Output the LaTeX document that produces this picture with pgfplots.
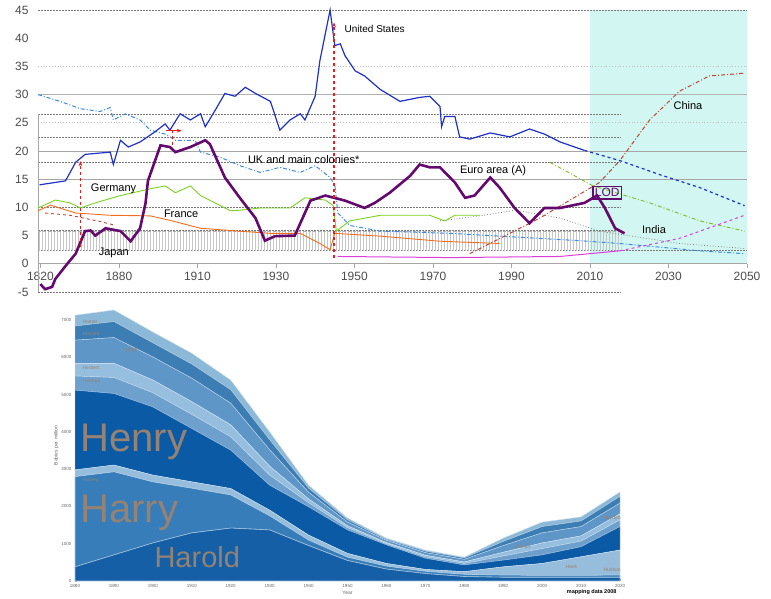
\documentclass[border=0pt]{standalone}
\usepackage{fontspec}
\setmainfont{Liberation Sans}
\usepackage{pgfplots}
\pgfplotsset{compat=1.18}
\usetikzlibrary{patterns,arrows.meta}
\definecolor{usblue}{RGB}{30,50,200}
\definecolor{ukblue}{RGB}{60,140,230}
\definecolor{degreen}{RGB}{120,210,30}
\definecolor{frorange}{RGB}{240,110,30}
\definecolor{lodpurple}{RGB}{100,10,110}
\definecolor{cnred}{RGB}{190,70,50}
\definecolor{inmag}{RGB}{220,60,220}
\definecolor{eugreen}{RGB}{130,190,40}
\definecolor{fcyan}{RGB}{210,247,242}
\definecolor{arrred}{RGB}{230,30,30}
\definecolor{gline}{RGB}{120,120,120}
\definecolor{lA}{RGB}{20,95,165}
\definecolor{lB}{RGB}{55,125,185}
\definecolor{lC}{RGB}{150,190,220}
\definecolor{lD}{RGB}{10,90,165}
\definecolor{lE}{RGB}{110,160,205}
\definecolor{lF}{RGB}{150,190,222}
\definecolor{lG}{RGB}{95,150,200}
\definecolor{lH}{RGB}{60,125,180}
\definecolor{lI}{RGB}{140,185,215}
\definecolor{nametxt}{RGB}{150,130,115}
\begin{document}
\begin{tikzpicture}[x=1pt,y=1pt]
\path[use as bounding box] (0,0) rectangle (771,599);
% ================= TOP CHART =================
\begin{axis}[at={(38pt,307pt)}, anchor=south west, scale only axis,
  width=709pt, height=282pt, xmin=-0.03, xmax=9, ymin=-5, ymax=45,
  axis line style={draw=none}, major tick length=0pt,
  xtick={0,...,9}, xticklabels={1820,1880,1910,1930,1950,1970,1990,2010,2030,2050},
  ytick={-5,0,...,45},
  /pgf/number format/assume math mode=true,
  tick label style={font=\fontsize{12}{12}\selectfont, text=black!70},
  x tick label style={yshift=23pt},
  y tick label style={xshift=-6pt},
  clip=false]
\addplot[fill=fcyan, draw=none] coordinates {(7,0)(9,0)(9,45)(7,45)} \closedcycle;
% grid lines
\draw[gline, dash pattern=on 2pt off 1pt, line width=0.8pt] (axis cs:-0.03,45) -- (axis cs:9,45);
\draw[gray!50, dotted, line width=0.8pt] (axis cs:-0.03,35) -- (axis cs:9,35);
\draw[gray!60, line width=0.9pt] (axis cs:-0.03,30) -- (axis cs:9,30);
\draw[gline, dash pattern=on 2pt off 1pt, line width=0.8pt] (axis cs:-0.03,26.5) -- (axis cs:7.4,26.5);
\draw[gray!50, dotted, line width=0.8pt] (axis cs:-0.03,25) -- (axis cs:9,25);
\draw[gline, dash pattern=on 2pt off 1pt, line width=0.8pt] (axis cs:-0.03,22.4) -- (axis cs:7.4,22.4);
\draw[gray!70, line width=0.9pt] (axis cs:-0.03,20) -- (axis cs:9,20);
\draw[gline, dash pattern=on 2pt off 1pt, line width=0.8pt] (axis cs:-0.03,18) -- (axis cs:7.4,18);
\draw[gray!70, line width=0.9pt] (axis cs:-0.03,15) -- (axis cs:9,15);
\draw[gline, dash pattern=on 2pt off 1pt, line width=0.8pt] (axis cs:-0.03,10) -- (axis cs:7.4,10);
\draw[gline, dash pattern=on 2pt off 1pt, line width=0.8pt] (axis cs:-0.03,6) -- (axis cs:7.4,6);
\draw[gline, dash pattern=on 2pt off 1pt, line width=0.8pt] (axis cs:-0.03,2.3) -- (axis cs:9,2.3);
\draw[gray!70, line width=0.9pt] (axis cs:-0.03,0) -- (axis cs:9,0);
\draw[gline, dash pattern=on 2pt off 1pt, line width=0.8pt] (axis cs:-0.03,-5) -- (axis cs:7.4,-5);
\draw[gray!70, line width=0.9pt] (axis cs:-0.03,26.5) -- (axis cs:-0.03,-5);
\pgfplotsinvokeforeach{0,1,...,9}{\draw[gray!70] (axis cs:#1,0) -- (axis cs:#1,-0.8);}
\fill[pattern=vertical lines, pattern color=gray!45] (axis cs:-0.03,2.4) rectangle (axis cs:7.4,5.8);
\draw[gray!60, densely dashed] (axis cs:-0.03,5.8) -- (axis cs:7.4,5.8);
% UK and main colonies
\addplot[ukblue, line width=1pt, dash pattern=on 4pt off 2pt on 1pt off 2pt] coordinates {
(-0.03,30.0)(0.25,28.8)(0.51,27.5)(0.76,27.0)(0.89,27.7)(0.93,25.5)(1.08,26.6)(1.27,25.5)(1.40,23.7)(1.59,23.0)(1.72,21.9)(1.97,21.9)(2.04,19.8)(2.29,18.9)(2.54,17.4)(2.80,16.2)(3.05,17.1)(3.31,16.2)(3.50,17.4)(3.69,15.3)(3.75,14.0)(3.79,9.0)(3.94,6.8)(4.33,5.8)(5.22,5.4)(5.85,4.9)(6.87,4.1)(7.38,3.6)(8.40,2.3)(8.97,1.8)};
% Germany
\addplot[degreen, line width=0.9pt] coordinates {
(-0.03,9.9)(0.19,11.3)(0.38,10.8)(0.51,9.9)(0.70,10.8)(1.02,12.1)(1.40,13.3)(1.59,13.8)(1.72,12.6)(1.91,13.8)(2.04,12.1)(2.42,9.4)(2.54,9.5)(2.80,9.9)(3.18,9.9)(3.37,11.7)(3.63,11.3)(3.73,10.3)(3.77,5.8)(3.94,7.6)(4.33,8.6)(4.96,8.6)(5.15,7.6)(5.28,8.6)(5.60,8.6)};
% Euro area projection
\addplot[eugreen, line width=0.9pt, dash pattern=on 4pt off 2pt on 1pt off 2pt] coordinates {
(6.49,18.0)(7.04,13.8)(7.76,10.8)(8.40,7.6)(8.97,5.8)};
% France
\addplot[frorange, line width=0.9pt] coordinates {
(-0.03,9.4)(0.13,10.4)(0.45,9.0)(0.89,8.6)(1.40,8.5)(1.65,7.7)(2.04,6.3)(2.42,5.9)(2.93,5.4)(3.31,5.4)(3.56,3.6)(3.69,2.5)(3.75,5.4)(4.33,4.9)(5.09,4.0)(5.85,3.6)};
\addplot[cnred, line width=0.9pt, dashed] coordinates {(0.06,9.0)(0.38,8.6)(0.76,7.5)(0.96,6.8)};
% grey dotted
\addplot[gray, line width=0.8pt, dotted] coordinates {
(5.09,7.6)(5.60,8.5)(6.05,9.5)(6.62,8.1)(7.12,5.8)(8.14,3.6)(8.97,2.7)};
% India
\addplot[inmag, line width=1pt] coordinates {(3.79,1.3)(5.22,1.1)(6.62,1.3)(7.38,2.3)};
\addplot[inmag, line width=1pt, dashed] coordinates {(7.38,2.3)(8.14,4.5)(8.97,8.6)};
% China
\addplot[cnred, line width=1pt, dash pattern=on 4pt off 2pt on 1pt off 2pt] coordinates {
(5.47,1.8)(6.36,8.1)(7.12,14.4)(7.38,18.3)(7.76,25.5)(8.14,30.6)(8.52,33.3)(8.97,33.8)};
% United States
\addplot[usblue, line width=1.2pt] coordinates {
(-0.01,14.0)(0.32,14.7)(0.45,18.0)(0.57,19.4)(0.89,19.8)(0.93,17.6)(1.02,21.9)(1.12,20.7)(1.27,21.6)(1.46,23.4)(1.59,24.8)(1.65,23.7)(1.78,26.6)(1.91,25.5)(2.04,26.6)(2.10,24.3)(2.23,27.3)(2.35,30.2)(2.48,29.7)(2.61,31.3)(2.74,30.2)(2.93,28.8)(3.05,23.7)(3.18,25.5)(3.31,26.6)(3.37,25.5)(3.50,29.7)(3.56,36.0)(3.69,45.0)(3.75,38.7)(3.82,39.0)(3.88,36.9)(4.01,34.2)(4.13,33.3)(4.33,30.9)(4.58,28.8)(4.83,29.5)(4.96,29.7)(5.09,27.9)(5.11,24.3)(5.15,26.1)(5.28,26.1)(5.34,22.5)(5.47,22.1)(5.73,23.2)(5.98,22.5)(6.23,23.9)(6.42,23.0)(6.62,21.6)(6.93,20.1)};
\addplot[usblue, line width=1.2pt, dashed] coordinates {(6.93,20.1)(7.38,18.3)(7.89,15.8)(8.40,13.5)(8.97,10.3)};
% LOD
\addplot[lodpurple, line width=2.6pt] coordinates {
(0,-3.6)(0.06,-4.5)(0.15,-4.1)(0.19,-2.7)(0.32,-0.4)(0.45,1.8)(0.57,5.8)(0.64,5.9)(0.70,5.0)(0.83,6.3)(1.02,5.8)(1.15,4.0)(1.27,6.3)(1.34,10.8)(1.37,14.7)(1.53,21.0)(1.65,20.7)(1.72,19.8)(1.91,20.7)(2.10,21.9)(2.16,21.2)(2.35,15.3)(2.54,11.7)(2.74,8.1)(2.86,4.1)(2.99,4.9)(3.24,5.0)(3.44,11.2)(3.63,12.1)(3.88,11.2)(4.13,9.9)(4.26,10.8)(4.45,12.6)(4.71,15.6)(4.83,17.6)(4.96,17.1)(5.09,17.1)(5.28,14.4)(5.41,11.7)(5.53,12.1)(5.73,15.3)(5.85,13.5)(6.04,9.9)(6.23,7.2)(6.42,9.9)(6.62,9.9)(6.93,10.8)(7.09,12.1)(7.19,9.9)(7.32,6.3)(7.44,5.4)};
% red arrows
\draw[arrred, line width=1.1pt, dashed, -{Stealth[length=5pt]}] (axis cs:0.51,3.0) -- (axis cs:0.51,18.2);
\draw[arrred, line width=1.1pt, dashed] (axis cs:1.68,21.0) -- (axis cs:1.68,23.6);
\draw[arrred, line width=1.1pt, -{Stealth[length=5pt]}] (axis cs:1.60,23.6) -- (axis cs:1.80,23.6);
\draw[arrred, line width=1.1pt, dashed, -{Stealth[length=5pt]}] (axis cs:3.74,1.0) -- (axis cs:3.74,42.8);
% labels
\node[anchor=west, font=\fontsize{10}{10}\selectfont] at (axis cs:3.83,41.7) {United States};
\node[anchor=west, font=\fontsize{11}{11}\selectfont] at (axis cs:2.60,18.5) {UK and main colonies*};
\node[anchor=west, font=\fontsize{11}{11}\selectfont] at (axis cs:0.60,13.3) {Germany};
\node[anchor=west, font=\fontsize{11}{11}\selectfont] at (axis cs:1.53,8.8) {France};
\node[anchor=west, font=\fontsize{11}{11}\selectfont] at (axis cs:0.70,2.0) {Japan};
\node[anchor=west, font=\fontsize{11}{11}\selectfont] at (axis cs:5.30,16.6) {Euro area (A)};
\node[anchor=west, font=\fontsize{11}{11}\selectfont] at (axis cs:8.02,28.0) {China};
\node[anchor=west, font=\fontsize{11}{11}\selectfont] at (axis cs:7.62,6.0) {India};
\node[draw=lodpurple, line width=1.5pt, text=lodpurple, inner sep=2pt, font=\fontsize{12}{12}\selectfont] at (axis cs:7.22,12.6) {LOD};
\end{axis}
% ================= BOTTOM CHART =================
\begin{axis}[at={(75pt,18pt)}, anchor=south west, scale only axis,
  width=545pt, height=271pt, xmin=1880, xmax=2020, ymin=0, ymax=7.27,
  stack plots=y, axis line style={draw=none},
  major tick length=2pt, tick style={gray!70}, tick pos=left,
  xtick={1880,1890,...,2020},
  xticklabels={1880,1890,1900,1910,1920,1930,1940,1950,1960,1970,1980,1990,2000,2010,2020},
  ytick={0,1,...,7},
  yticklabels={0,1000,2000,3000,4000,5000,6000,7000},
  tick label style={font=\fontsize{4.5}{5}\selectfont, text=black!60},
  xlabel={Year}, ylabel={Babies per million},
  label style={font=\fontsize{5}{5}\selectfont, text=black!60},
  xlabel style={yshift=4pt}, ylabel style={yshift=-4pt},
  clip=false]
\addplot[fill=lA, draw=white!60!lA, line width=0.6pt] coordinates {
(1880,0.38)(1890,0.70)(1900,1.02)(1910,1.29)(1920,1.42)(1930,1.37)(1940,0.95)(1950,0.55)(1960,0.32)(1970,0.20)(1980,0.12)(1990,0.10)(2000,0.10)(2010,0.10)(2020,0.10)} \closedcycle;
\addplot[fill=lB, draw=white!60!lB, line width=0.6pt] coordinates {
(1880,2.42)(1890,2.23)(1900,1.64)(1910,1.20)(1920,0.89)(1930,0.38)(1940,0.15)(1950,0.09)(1960,0.08)(1970,0.06)(1980,0.06)(1990,0.06)(2000,0.05)(2010,0.05)(2020,0.06)} \closedcycle;
\addplot[fill=lC, draw=white!60!lC, line width=0.4pt] coordinates {
(1880,0.18)(1890,0.18)(1900,0.18)(1910,0.17)(1920,0.17)(1930,0.15)(1940,0.13)(1950,0.10)(1960,0.07)(1970,0.05)(1980,0.07)(1990,0.22)(2000,0.32)(2010,0.50)(2020,0.67)} \closedcycle;
\addplot[fill=lD, draw=white!60!lD, line width=0.4pt] coordinates {
(1880,2.14)(1890,1.92)(1900,1.83)(1910,1.43)(1920,1.03)(1930,0.67)(1940,0.76)(1950,0.63)(1960,0.50)(1970,0.30)(1980,0.18)(1990,0.18)(2000,0.23)(2010,0.27)(2020,0.63)} \closedcycle;
\addplot[fill=lE, draw=white!60!lE, line width=0.4pt] coordinates {
(1880,0.38)(1890,0.43)(1900,0.38)(1910,0.38)(1920,0.36)(1930,0.27)(1940,0.11)(1950,0.06)(1960,0.03)(1970,0.04)(1980,0.04)(1990,0.11)(2000,0.17)(2010,0.15)(2020,0.18)} \closedcycle;
\addplot[fill=lF, draw=white!60!lF, line width=0.4pt] coordinates {
(1880,0.34)(1890,0.38)(1900,0.34)(1910,0.34)(1920,0.32)(1930,0.24)(1940,0.10)(1950,0.05)(1960,0.03)(1970,0.04)(1980,0.04)(1990,0.10)(2000,0.15)(2010,0.14)(2020,0.16)} \closedcycle;
\addplot[fill=lG, draw=white!60!lG, line width=0.4pt] coordinates {
(1880,0.62)(1890,0.69)(1900,0.62)(1910,0.63)(1920,0.58)(1930,0.44)(1940,0.18)(1950,0.10)(1960,0.06)(1970,0.07)(1980,0.07)(1990,0.18)(2000,0.27)(2010,0.25)(2020,0.29)} \closedcycle;
\addplot[fill=lH, draw=white!60!lH, line width=0.4pt] coordinates {
(1880,0.38)(1890,0.43)(1900,0.38)(1910,0.38)(1920,0.36)(1930,0.27)(1940,0.11)(1950,0.06)(1960,0.03)(1970,0.04)(1980,0.04)(1990,0.11)(2000,0.17)(2010,0.15)(2020,0.18)} \closedcycle;
\addplot[fill=lI, draw=white!60!lI, line width=0.4pt] coordinates {
(1880,0.29)(1890,0.31)(1900,0.29)(1910,0.29)(1920,0.26)(1930,0.21)(1940,0.08)(1950,0.05)(1960,0.03)(1970,0.03)(1980,0.02)(1990,0.09)(2000,0.12)(2010,0.11)(2020,0.12)} \closedcycle;
\end{axis}
% name labels of the lower chart (picture coordinates)
\node[anchor=west, text=nametxt, font=\fontsize{40}{40}\selectfont] at (77,157) {Henry};
\node[anchor=west, text=nametxt, font=\fontsize{40}{40}\selectfont] at (77,86) {Harry};
\node[anchor=west, text=nametxt, font=\fontsize{29}{29}\selectfont] at (151,42) {Harold};
\node[anchor=west, text=nametxt, font=\fontsize{5}{5}\selectfont] at (79,277) {Homer};
\node[anchor=west, text=nametxt, font=\fontsize{5}{5}\selectfont] at (79,265) {Howard};
\node[anchor=west, text=nametxt, font=\fontsize{5}{5}\selectfont] at (122,249) {Hugh};
\node[anchor=west, text=nametxt, font=\fontsize{5}{5}\selectfont] at (79,231) {Herbert};
\node[anchor=west, text=nametxt, font=\fontsize{5}{5}\selectfont] at (79,218) {Herman};
\node[anchor=west, text=nametxt, font=\fontsize{5}{5}\selectfont] at (79,119) {Harvey};
\node[anchor=west, text=nametxt, font=\fontsize{5}{5}\selectfont] at (512,52) {Hunter};
\node[anchor=west, text=nametxt, font=\fontsize{5}{5}\selectfont] at (562,32) {Hank};
\node[anchor=west, text=nametxt, font=\fontsize{5}{5}\selectfont] at (600,81) {Hayden};
\node[anchor=west, text=nametxt, font=\fontsize{5}{5}\selectfont] at (600,29) {Hudson};
\node[anchor=east, font=\bfseries\fontsize{5.5}{5.5}\selectfont] at (620,7) {mapping data 2008};
\end{tikzpicture}
\end{document}
